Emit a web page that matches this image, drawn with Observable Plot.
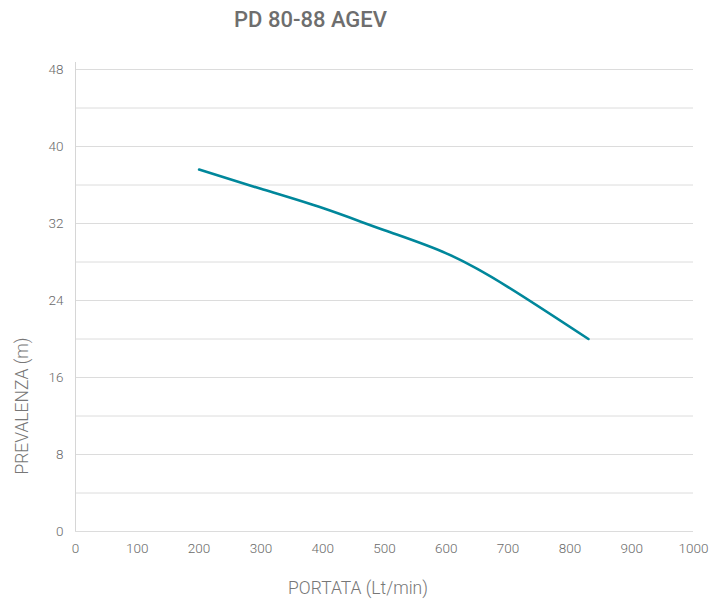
<!DOCTYPE html>
<html>
<head>
<meta charset="utf-8">
<script src="https://cdn.jsdelivr.net/npm/d3@7"></script>
<script src="https://cdn.jsdelivr.net/npm/@observablehq/plot@0.6"></script>
<style>
  html, body { margin: 0; padding: 0; background: #fff; }
  #wrap { position: relative; width: 710px; height: 599px; overflow: hidden; font-family: Roboto, "Noto Sans", sans-serif; }
  #title { position: absolute; left: 0; width: 621px; top: 7px; text-align: center; font-size: 22px; font-weight: 500; color: #6e6e6e; }
  #chart { position: absolute; left: 0; top: 45px; }
  #ylabel { position: absolute; left: 22px; top: 406px; transform: translate(-50%, -50%) rotate(-90deg); white-space: nowrap; font-size: 17.5px; font-weight: 300; color: #777; }
  #xlabel { position: absolute; left: 358px; top: 578px; transform: translateX(-50%); white-space: nowrap; font-size: 17.5px; font-weight: 300; color: #777; }
</style>
</head>
<body>
<div id="wrap">
  <div id="title">PD 80-88 AGEV</div>
  <div id="chart"></div>
  <div id="ylabel">PREVALENZA (m)</div>
  <div id="xlabel">PORTATA (Lt/min)</div>
</div>
<script>
// Data
const portata    = [200, 300, 400, 500, 600, 700, 830];       // Lt/min
const prevalenza = [37.6, 35.6, 33.6, 31.3, 28.9, 25.4, 20.0]; // m
const xTicks = [0, 100, 200, 300, 400, 500, 600, 700, 800, 900, 1000];
const yTicks = [0, 8, 16, 24, 32, 40, 48];
const yGrid  = [0, 4, 8, 12, 16, 20, 24, 28, 32, 36, 40, 44, 48];

const curve = portata.map((x, i) => ({x, y: prevalenza[i]}));

const plot = Plot.plot({
  width: 710,
  height: 520,
  marginLeft: 75,
  marginRight: 17,
  marginTop: 24,
  marginBottom: 34,
  style: {fontFamily: "Roboto, 'Noto Sans', sans-serif", fontSize: "13.5px", color: "#6a6a6a", background: "transparent"},
  x: {domain: [0, 1000]},
  y: {domain: [0, 48]},
  marks: [
    Plot.ruleY(yGrid, {stroke: "#dcdcdc", strokeWidth: 1, strokeOpacity: 1}),
    Plot.ruleX([0], {stroke: "#d6d6d6", strokeWidth: 1, insetTop: -7}),
    Plot.axisX({ticks: xTicks, tickFormat: d3.format("d"), tickSize: 0, tickPadding: 12, label: null, fill: "#6a6a6a", fontWeight: 300}),
    Plot.axisY({ticks: yTicks, tickFormat: d3.format("d"), tickSize: 0, tickPadding: 12, label: null, fill: "#6a6a6a", fontWeight: 300}),
    Plot.line(curve, {x: "x", y: "y", curve: "natural", stroke: "#00879b", strokeWidth: 2.6})
  ]
});
document.getElementById("chart").appendChild(plot);
</script>
</body>
</html>
